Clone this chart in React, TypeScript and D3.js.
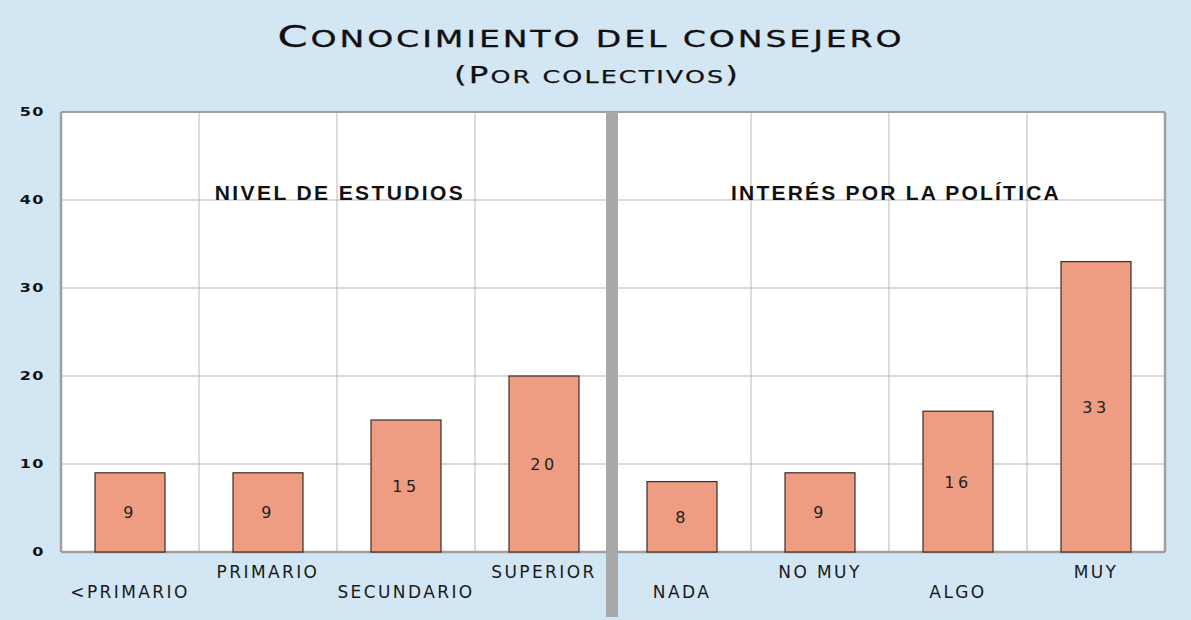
import React from 'react';
import * as d3 from 'd3';

const categories = ['<PRIMARIO', 'PRIMARIO', 'SECUNDARIO', 'SUPERIOR', 'NADA', 'NO MUY', 'ALGO', 'MUY'];
const values = [9, 9, 15, 20, 8, 9, 16, 33];
const groups = ['NIVEL DE ESTUDIOS', 'INTERÉS POR LA POLÍTICA'];
const yTicks = [0, 10, 20, 30, 40, 50];
const title = 'Conocimiento del consejero';
const subtitle = '(Por colectivos)';

const W = 1191;
const H = 620;
const margin = { left: 61, right: 26, top: 112, bottom: 68 };

// hand-made small caps: real capitals big, the rest as smaller capitals
const smallCaps = (s: string, big: number, small: number) => {
  const parts: { t: string; size: number }[] = [];
  for (const ch of s) {
    const isBig = ch !== ch.toLowerCase() || ch === '(' || ch === ')';
    const size = isBig ? big : small;
    const last = parts[parts.length - 1];
    if (last && last.size === size) last.t += ch.toUpperCase();
    else parts.push({ t: ch.toUpperCase(), size });
  }
  return parts.map((p, i) => <tspan key={i} fontSize={p.size}>{p.t}</tspan>);
};

const App: React.FC = () => {
  const x = d3.scaleBand<string>()
    .domain(categories)
    .range([margin.left, W - margin.right])
    .paddingInner(0)
    .paddingOuter(0);
  const y = d3.scaleLinear().domain([0, 50]).range([H - margin.bottom, margin.top]);
  const bw = x.bandwidth();
  const barW = bw * 0.507;
  const plotL = margin.left;
  const plotR = W - margin.right;
  const plotT = margin.top;
  const plotB = H - margin.bottom;
  const sepX = x('NADA')!;
  const wide = '"DejaVu Sans", Verdana, sans-serif';

  return (
    <svg width={W} height={H} style={{ display: 'block', position: 'absolute', left: 0, top: 0 }}>
      <rect x={0} y={0} width={W} height={H} fill="#d3e6f4" />
      <text x={591} y={47} textAnchor="middle" fontFamily={wide} stroke="#111" strokeWidth={0.3}
        letterSpacing={2} textLength={627} lengthAdjust="spacingAndGlyphs" fill="#111">
        {smallCaps(title, 30, 23)}
      </text>
      <text x={597} y={83} textAnchor="middle" fontFamily={wide} stroke="#111" strokeWidth={0.25}
        letterSpacing={1.5} textLength={286} lengthAdjust="spacingAndGlyphs" fill="#111">
        {smallCaps(subtitle, 23, 18)}
      </text>

      <rect x={plotL} y={plotT} width={plotR - plotL} height={plotB - plotT} fill="#fff" />
      {yTicks.map(t => (
        <line key={'h' + t} x1={plotL} x2={plotR} y1={y(t)} y2={y(t)} stroke="#b4b4b4" strokeWidth={1.2} />
      ))}
      {categories.map(c => (
        <line key={'v' + c} x1={x(c)!} x2={x(c)!} y1={plotT} y2={plotB} stroke="#c4c4c4" strokeWidth={1.2} />
      ))}
      <line x1={plotR} x2={plotR} y1={plotT} y2={plotB} stroke="#a0a0a0" strokeWidth={2.5} />
      <line x1={plotL} x2={plotL} y1={plotT} y2={plotB} stroke="#a0a0a0" strokeWidth={2.5} />
      <line x1={plotL} x2={plotR} y1={plotB} y2={plotB} stroke="#a0a0a0" strokeWidth={2.5} />
      <line x1={plotL} x2={plotR} y1={plotT} y2={plotT} stroke="#a0a0a0" strokeWidth={2} />

      {yTicks.map(t => (
        <text key={'t' + t} x={45} y={y(t) + 5} textAnchor="end" fontFamily={wide} fontWeight="bold"
          fontSize={16} letterSpacing={1.5} fill="#111"
          transform={`translate(0, ${y(t)}) scale(1, 0.72) translate(0, ${-y(t)})`}>{t}</text>
      ))}

      {categories.map((c, i) => {
        const cx = x(c)! + bw / 2;
        const v = values[i];
        return (
          <g key={'b' + c}>
            <rect x={cx - barW / 2} y={y(v)} width={barW} height={y(0) - y(v)}
              fill="#ee9d83" stroke="#3a2a24" strokeWidth={1.2} />
            <text x={cx} y={(y(v) + y(0)) / 2 + 6} textAnchor="middle" fontFamily={wide}
              fontSize={16} letterSpacing={3.5} fill="#222">{v}</text>
            <text x={cx} y={i % 2 === 0 ? 598 : 578} textAnchor="middle" fontFamily={wide}
              fontSize={17} letterSpacing={2.4} fill="#1a1a1a">{c}</text>
          </g>
        );
      })}

      <rect x={sepX - 7} y={plotT} width={12} height={617 - plotT} fill="#a9a9a9" />

      <text x={340} y={200} textAnchor="middle" fontFamily='"Liberation Sans", Arial, sans-serif'
        fontWeight="bold" fontSize={21} letterSpacing={2.4} fill="#111">{groups[0]}</text>
      <text x={896} y={200} textAnchor="middle" fontFamily='"Liberation Sans", Arial, sans-serif'
        fontWeight="bold" fontSize={21} letterSpacing={2.2} fill="#111">{groups[1]}</text>
    </svg>
  );
};

export default App;
